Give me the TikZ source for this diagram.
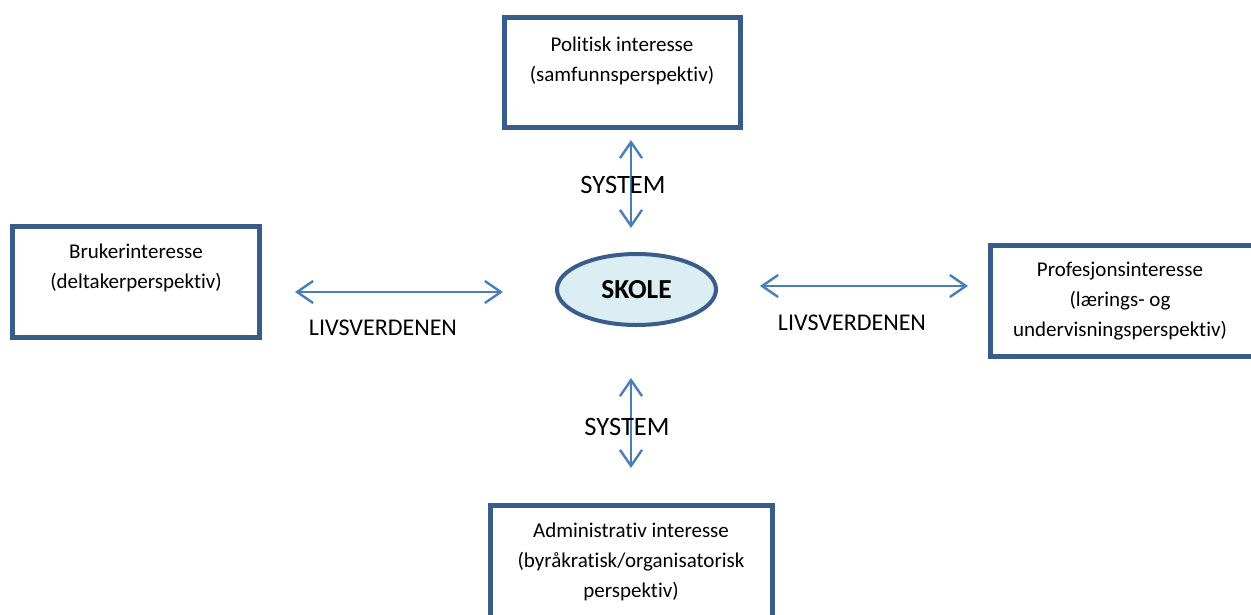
\documentclass[tikz,border=0pt]{standalone}
\usepackage{fontspec}
\setmainfont{Carlito}[RawFeature=-liga]
\usetikzlibrary{shapes.geometric,arrows.meta}
\definecolor{boxblue}{HTML}{385D8A}
\definecolor{linkblue}{HTML}{4A7EBB}
\definecolor{skolefill}{HTML}{DAEEF3}
\tikzset{
  interest/.style={draw=boxblue,line width=5pt,rectangle,inner sep=0pt},
  boxtext/.style={align=center,font=\fontsize{21}{30}\selectfont},
  linktext/.style={font=\fontsize{24}{28}\selectfont},
  link/.style={draw=linkblue,line width=2.4pt,{Straight Barb[length=16pt,width=22pt]}-{Straight Barb[length=16pt,width=22pt]}}
}

\begin{document}
\begin{tikzpicture}[x=1pt,y=-1pt]
      \useasboundingbox (0,0) rectangle (1251,614);
      \clip (0,0) rectangle (1251,614);
      \draw
        (622.5,72.5) node[interest,minimum width=236pt,minimum height=110pt] (pol){}
        (136,282) node[interest,minimum width=247pt,minimum height=111pt] (bruk){}
        (1122,300.5) node[interest,minimum width=263pt,minimum height=111pt] (prof){}
        (631.5,567.5) node[interest,minimum width=282pt,minimum height=124pt] (adm){}
        (636.5,289.5) node[draw=boxblue,fill=skolefill,line width=4pt,ellipse,
          minimum width=159pt,minimum height=71pt,font=\fontsize{27.5}{30}\selectfont\bfseries] (skole){SKOLE};
      \draw
        (622,61) node[boxtext] (pol-t){Politisk interesse\\(samfunnsperspektiv)}
        (136,267.5) node[boxtext] (bruk-t){Brukerinteresse\\(deltakerperspektiv)}
        (1120,301) node[boxtext] (prof-t){Profesjonsinteresse\\(lærings- og\\undervisningsperspektiv)}
        (631,562) node[boxtext] (adm-t){Administrativ interesse\\(byråkratisk/organisatorisk\\perspektiv)};
      \coordinate (up-a) at (631,140);
      \coordinate (up-b) at (631,228);
      \coordinate (down-a) at (631,378);
      \coordinate (down-b) at (631,468);
      \coordinate (left-a) at (295,292);
      \coordinate (left-b) at (503,292);
      \coordinate (right-a) at (760,286);
      \coordinate (right-b) at (968,286);
      \begin{scope}[link]
        \draw (up-a) -- (up-b);
        \draw (down-a) -- (down-b);
        \draw (left-a) -- (left-b);
        \draw (right-a) -- (right-b);
      \end{scope}
      \draw
        (623,185) node[linktext,font=\fontsize{26.5}{30}\selectfont] (sys-up){SYSTEM}
        (627,427) node[linktext,font=\fontsize{26.5}{30}\selectfont] (sys-down){SYSTEM}
        (383,328) node[linktext] (liv-left){LIVSVERDENEN}
        (852,323) node[linktext] (liv-right){LIVSVERDENEN};
    \end{tikzpicture}
\end{document}
